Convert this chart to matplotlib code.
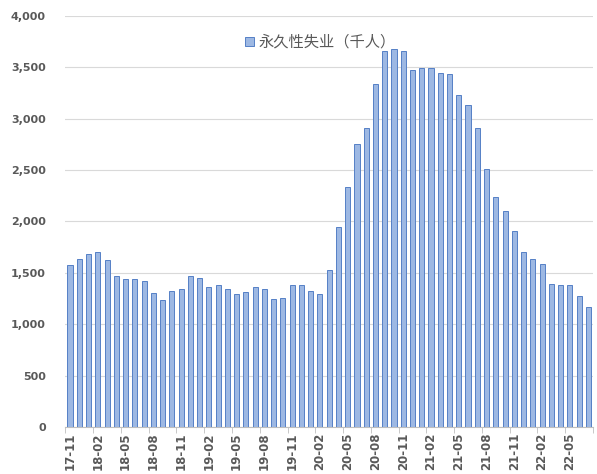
import numpy as np
import matplotlib
matplotlib.use("Agg")
import matplotlib.pyplot as plt

# monthly series, 2017-11 .. 2022-07 (thousands)
months = [f"{y % 100:02d}-{m:02d}" for y in range(2017, 2023) for m in range(1, 13)]
months = months[months.index("17-11"):months.index("22-07") + 1]
values = [1580, 1638, 1687, 1703, 1622, 1466, 1440, 1440, 1420, 1303,
          1238, 1322, 1339, 1466, 1449, 1358, 1384, 1339, 1296, 1316,
          1358, 1339, 1247, 1257, 1384, 1384, 1322, 1296, 1531, 1947,
          2338, 2751, 2914, 3334, 3662, 3682, 3662, 3474, 3490, 3490,
          3444, 3435, 3236, 3135, 2907, 2514, 2240, 2103, 1904, 1703,
          1631, 1586, 1394, 1384, 1384, 1273, 1166]
label = "永久性失业（千人）"

plt.rcParams["font.family"] = ["Noto Sans CJK SC", "DejaVu Sans"]
GRAY = "#595959"

fig = plt.figure(figsize=(5.97, 4.74), dpi=100)
ax = fig.add_axes([65.4 / 597, 47 / 474, (593 - 65.4) / 597, (427 - 16) / 474])

x = np.arange(len(values))
ax.bar(x, values, 0.55, color="#9DB8E3", edgecolor="#5580C6", linewidth=0.7,
       label=label, zorder=3)

ax.set_xlim(-0.5, len(values) - 0.5)
ax.set_ylim(0, 4000)
ax.set_yticks(np.arange(0, 4001, 500))
ax.set_yticklabels([f"{v:,}" for v in range(0, 4001, 500)],
                   fontsize=8, fontweight="bold", color=GRAY, family="DejaVu Sans")
ax.grid(True, axis="y", color="#d9d9d9", linewidth=0.8, zorder=0)
ax.tick_params(axis="y", length=0, pad=14)

ax.set_xticks(x[::3])
ax.set_xticklabels(months[::3], rotation=90, fontsize=8.5, fontweight="bold",
                   color=GRAY, family="DejaVu Sans")
ax.set_xticks(np.arange(-0.5, len(values), 3), minor=True)
ax.tick_params(axis="x", which="major", length=0, pad=4)
ax.tick_params(axis="x", which="minor", length=4, color="#bfbfbf")

for s in ["top", "right", "left"]:
    ax.spines[s].set_visible(False)
ax.spines["bottom"].set_color("#bfbfbf")

ax.legend(loc="upper center", bbox_to_anchor=(0.483, 0.99), frameon=False,
          fontsize=11, labelcolor=GRAY, handlelength=0.6, handleheight=0.6,
          handletextpad=0.3)

fig.savefig("out.png", dpi=100)
